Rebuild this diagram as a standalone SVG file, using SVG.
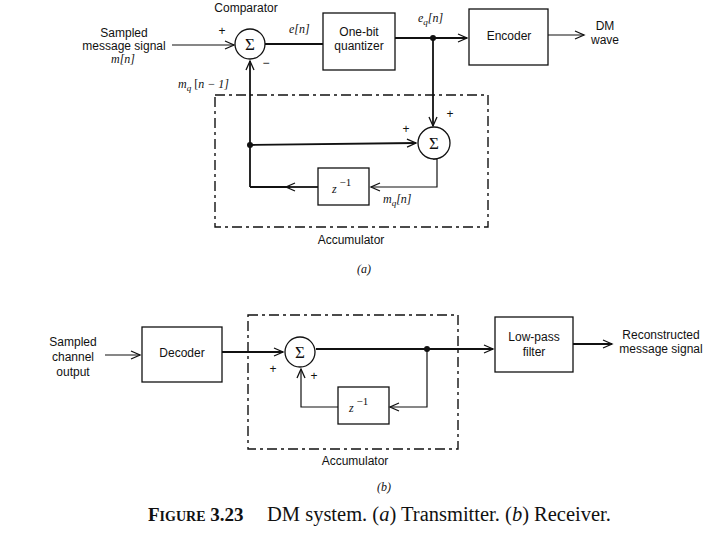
<svg xmlns="http://www.w3.org/2000/svg" width="720" height="540" viewBox="0 0 720 540">
<style>
.s{font-family:"Liberation Sans",Arial,sans-serif;font-size:12px;fill:#111;text-anchor:middle}
.m{font-family:"Liberation Serif","Times New Roman",serif;font-style:italic;font-size:12px;fill:#111}
.sig{font-family:"Liberation Serif","Times New Roman",serif;font-size:17px;fill:#111;text-anchor:middle}
.box{fill:none;stroke:#111;stroke-width:1.3}
.sum{fill:#fff;stroke:#111;stroke-width:1.3}
.dash{fill:none;stroke:#111;stroke-width:1.4;stroke-dasharray:10 4 3 4}
.w{fill:none;stroke:#111;stroke-width:1.8}
.wt{fill:none;stroke:#111;stroke-width:1.2}
.cap{font-family:"Liberation Serif","Times New Roman",serif;font-size:19px;fill:#111}
</style>
<defs>
<marker id="ar" markerWidth="12" markerHeight="10" refX="10" refY="5" orient="auto" markerUnits="userSpaceOnUse">
<path d="M1,1 L10,5 L1,9" fill="none" stroke="#111" stroke-width="1.3"/>
</marker>
</defs>

<g id="connectors">
<!-- (a) -->
<line class="wt" x1="172" y1="45" x2="234" y2="45" marker-end="url(#ar)"/>
<line class="w" x1="265" y1="44" x2="323" y2="44"/>
<line class="w" x1="395" y1="38" x2="467" y2="38" marker-end="url(#ar)"/>
<line class="wt" x1="548" y1="35" x2="584" y2="35" marker-end="url(#ar)"/>
<line class="w" x1="433" y1="38" x2="433" y2="126" marker-end="url(#ar)"/>
<polyline class="wt" points="433,159 437,159 437,187 371,187" marker-end="url(#ar)"/>
<line class="w" x1="318" y1="187" x2="286" y2="187" marker-end="url(#ar)"/>
<line class="w" x1="290" y1="187" x2="250" y2="187"/>
<line class="w" x1="250" y1="187" x2="250" y2="61" marker-end="url(#ar)"/>
<line class="w" x1="250" y1="145" x2="416" y2="143" marker-end="url(#ar)"/>
<circle cx="433" cy="38" r="3" fill="#111"/>
<circle cx="250" cy="145" r="3" fill="#111"/>
<!-- (b) -->
<line class="wt" x1="105" y1="355" x2="140" y2="355" marker-end="url(#ar)"/>
<line class="w" x1="222" y1="352" x2="283" y2="352" marker-end="url(#ar)"/>
<line class="w" x1="316" y1="349" x2="493" y2="349" marker-end="url(#ar)"/>
<line class="w" x1="573" y1="344" x2="612" y2="344" marker-end="url(#ar)"/>
<polyline class="wt" points="427,349 427,407 390,407" marker-end="url(#ar)"/>
<polyline class="wt" points="338,407 301,407 301,369" marker-end="url(#ar)"/>
<circle cx="427" cy="349" r="3" fill="#111"/>
</g>

<g id="accumulator-a">
<rect class="dash" x="215" y="95" width="273" height="132"/>
<text class="s" x="351" y="244">Accumulator</text>
</g>
<g id="accumulator-b">
<rect class="dash" x="248" y="315" width="210" height="134"/>
<text class="s" x="355" y="465">Accumulator</text>
</g>

<g id="input-a">
<text class="s" x="124" y="37">Sampled</text>
<text class="s" x="124" y="50">message signal</text>
<text class="m" x="111" y="63">m[n]</text>
</g>

<g id="comparator">
<text class="s" x="246" y="12">Comparator</text>
<circle class="sum" cx="250" cy="44" r="15"/>
<text class="sig" x="250" y="50">Σ</text>
<text class="s" x="222" y="35">+</text>
<text class="s" x="266" y="67">−</text>
</g>

<g id="quantizer">
<rect class="box" x="323" y="13" width="72" height="57"/>
<text class="s" x="359" y="36">One-bit</text>
<text class="s" x="359" y="50">quantizer</text>
</g>

<g id="encoder">
<rect class="box" x="469" y="9" width="79" height="56"/>
<text class="s" x="509" y="40">Encoder</text>
</g>

<g id="output-a">
<text class="s" x="605" y="30">DM</text>
<text class="s" x="605" y="44">wave</text>
</g>

<g id="labels-a">
<text class="m" x="289" y="33">e[n]</text>
<text class="m" x="418" y="22">e<tspan font-size="9" dy="3">q</tspan><tspan dy="-3">[n]</tspan></text>
<text class="m" x="178" y="88">m<tspan font-size="9" dy="3">q</tspan><tspan dy="-3" font-style="normal"> [</tspan>n − 1]</text>
<text class="m" x="383" y="203">m<tspan font-size="9" dy="3">q</tspan><tspan dy="-3">[n]</tspan></text>
<text class="s" x="406" y="133">+</text>
<text class="s" x="450" y="118">+</text>
</g>

<g id="adder-a">
<circle class="sum" cx="434" cy="143" r="16"/>
<text class="sig" x="434" y="149">Σ</text>
</g>

<g id="delay-a">
<rect class="box" x="318" y="168" width="51" height="37"/>
<text class="m" x="332" y="193" font-size="13">z<tspan font-style="normal" font-size="11" dy="-7"> −1</tspan></text>
</g>

<text class="m" x="357" y="273">(a)</text>

<g id="input-b">
<text class="s" x="73" y="346">Sampled</text>
<text class="s" x="73" y="361">channel</text>
<text class="s" x="73" y="376">output</text>
</g>

<g id="decoder">
<rect class="box" x="142" y="327" width="80" height="55"/>
<text class="s" x="182" y="357">Decoder</text>
</g>

<g id="adder-b">
<circle class="sum" cx="300" cy="352" r="15"/>
<text class="sig" x="300" y="358">Σ</text>
<text class="s" x="273" y="373">+</text>
<text class="s" x="314" y="380">+</text>
</g>

<g id="delay-b">
<rect class="box" x="338" y="387" width="51" height="37"/>
<text class="m" x="349" y="412" font-size="13">z<tspan font-style="normal" font-size="11" dy="-7"> −1</tspan></text>
</g>

<g id="lpf">
<rect class="box" x="495" y="317" width="78" height="55"/>
<text class="s" x="534" y="341">Low-pass</text>
<text class="s" x="534" y="356">filter</text>
</g>

<g id="output-b">
<text class="s" x="661" y="339">Reconstructed</text>
<text class="s" x="661" y="353">message signal</text>
</g>

<text class="m" x="377" y="491">(b)</text>

<text class="cap" x="148" y="521"><tspan font-weight="bold" font-style="normal">F<tspan font-size="14">IGURE</tspan> 3.23</tspan><tspan x="267" font-size="20.5">DM system. (<tspan font-style="italic">a</tspan>) Transmitter. (<tspan font-style="italic">b</tspan>) Receiver.</tspan></text>
</svg>
